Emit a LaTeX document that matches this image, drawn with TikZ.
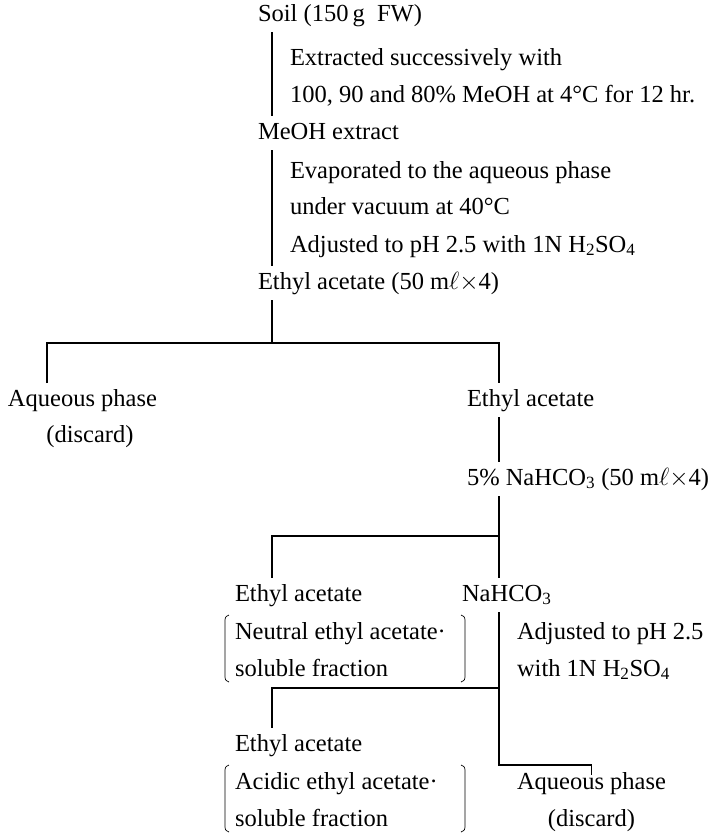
\documentclass[tikz,border=0pt]{standalone}
\usepackage{fontspec}
\setmainfont{Liberation Serif}
\usetikzlibrary{calc}
\tikzset{lbl/.style={anchor=west, inner sep=0pt, outer sep=0pt, outer ysep=6pt, text height=17pt, text depth=5pt}}
\def\lbrak(#1,#2)(#3){\draw[line width=0.7pt] (#1+4,#2) .. controls (#1,#2+2) .. (#1,#2+8) -- (#1,#3-8) .. controls (#1,#3-2) .. (#1+4,#3);}
\def\rbrak(#1,#2)(#3){\draw[line width=0.7pt] (#1-4,#2) .. controls (#1,#2+2) .. (#1,#2+8) -- (#1,#3-8) .. controls (#1,#3-2) .. (#1-4,#3);}

\begin{document}
\begin{tikzpicture}[x=1pt, y=-1pt, line width=1.6pt, font=\fontsize{24.5}{30}\selectfont]
			%%%%% START %%%%%
			\useasboundingbox (0,0) rectangle (713,833);
			
			\coordinate (trunk) at (272,0);
			\coordinate (side) at (499,0);
			\coordinate (colL) at (47,0);
			
			\node[lbl] (soil) at (258,15) {Soil (150\,g\ \ FW)};
			\node[lbl] (ext1) at (290,59) {Extracted successively with};
			\node[lbl] (ext2) at (290,96) {100, 90 and 80\% MeOH at 4°C for 12 hr.};
			\node[lbl] (meoh) at (258,133) {MeOH extract};
			\node[lbl] (evap1) at (290,172) {Evaporated to the aqueous phase};
			\node[lbl] (evap2) at (290,208) {under vacuum at 40°C};
			\node[lbl] (evap3) at (290,246) {Adjusted to pH 2.5 with 1N H\textsubscript{2}SO\textsubscript{4}};
			\node[lbl] (etac) at (258,283) {Ethyl acetate (50 m$\ell$$\times$4)};
			
			\node[lbl] (aqA) at (8,400) {Aqueous phase};
			\node[lbl, anchor=center] (discA) at (90,436) {(discard)};
			\node[lbl] (etB) at (467,400) {Ethyl acetate};
			\node[lbl] (bicarb) at (467,479) {5\% NaHCO\textsubscript{3} (50 m$\ell$$\times$4)};
			
			\node[lbl] (etC) at (235,595) {Ethyl acetate};
			\node[lbl] (nahco) at (462,595) {NaHCO\textsubscript{3}};
			\node[lbl] (neut1) at (235,633) {Neutral ethyl acetate·};
			\node[lbl] (neut2) at (235,670) {soluble fraction};
			\node[lbl] (adj1) at (517,633) {Adjusted to pH 2.5};
			\node[lbl] (adj2) at (517,670) {with 1N H\textsubscript{2}SO\textsubscript{4}};
			
			\node[lbl] (etD) at (235,745) {Ethyl acetate};
			\node[lbl] (acid1) at (235,783) {Acidic ethyl acetate·};
			\node[lbl] (acid2) at (235,820) {soluble fraction};
			\node[lbl] (aqB) at (517,783) {Aqueous phase};
			\node[lbl, anchor=center] (discB) at (aqB.center |- 0,820) {(discard)};
			
			\draw (soil.south -| trunk) -- (meoh.north -| trunk);
			\draw (meoh.south -| trunk) -- (etac.north -| trunk);
			
			\coordinate (fork1) at (272,343);
			\draw (etac.south -| fork1) -- (fork1);
			\draw (aqA.north -| colL) |- (fork1) -| (etB.north -| side);
			\draw (etB.south -| side) -- (bicarb.north -| side);
			
			\coordinate (fork2) at (499,536);
			\draw (bicarb.south -| fork2) -- (fork2) -- (nahco.north -| fork2);
			\draw (fork2) -| (etC.north -| trunk);
			
			\coordinate (fork3) at (499,688);
			\coordinate (fork4) at (499,765);
			\draw (nahco.south -| side) -- (fork3) -| (etD.north -| trunk);
			\draw (fork3) -- (fork4) -| ([yshift=-9pt]aqB.north);
			
			\lbrak(225,615)(682)
			\rbrak(465,615)(682)
			\lbrak(225,765)(832)
			\rbrak(465,765)(832)
			
			%%%%% END %%%%%
\end{tikzpicture}
\end{document}
